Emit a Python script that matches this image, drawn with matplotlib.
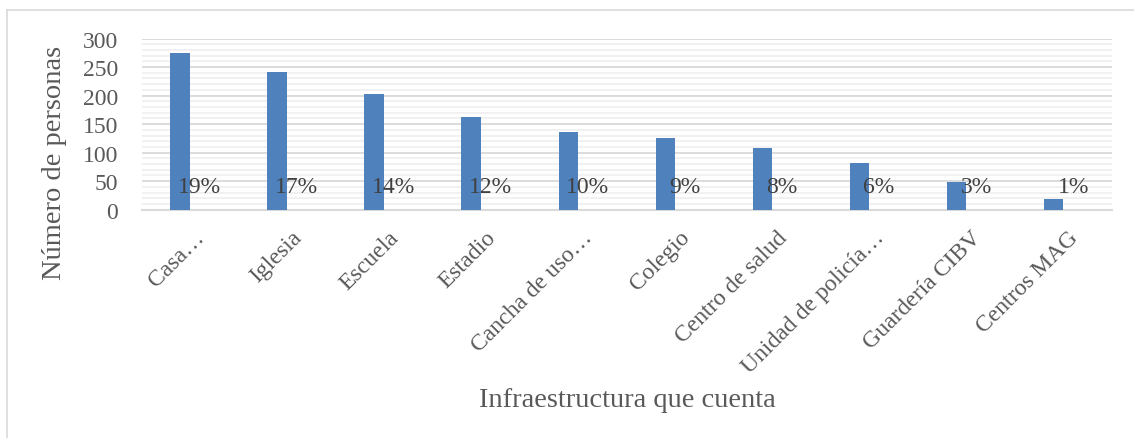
import matplotlib.pyplot as plt
from matplotlib.lines import Line2D
from matplotlib.ticker import MultipleLocator
from matplotlib.transforms import ScaledTranslation

categories = ['Casa…', 'Iglesia', 'Escuela', 'Estadio', 'Cancha de uso…',
              'Colegio', 'Centro de salud', 'Unidad de policía…',
              'Guardería CIBV', 'Centros MAG']
personas = [274, 242, 203, 162, 137, 126, 109, 81, 48, 19]
porcentajes = ['19%', '17%', '14%', '12%', '10%', '9%', '8%', '6%', '3%', '1%']

plt.rcParams['font.family'] = ['Liberation Serif', 'DejaVu Serif']
txt = '#595959'

fig = plt.figure(figsize=(11.34, 4.39), dpi=100)
ax = fig.add_axes([0.1252, 0.520, 0.8554, 0.390])

x = range(len(categories))
ax.bar(x, personas, width=0.2, color='#4F81BD', zorder=3)

for i, p in enumerate(porcentajes):
    ax.text(i + 0.2, 40, p, ha='center', va='center', fontsize=17,
            color='#404040', zorder=4)

ax.set_xlim(-0.39, 9.6)
ax.set_ylim(0, 300)
ax.yaxis.set_major_locator(MultipleLocator(50))
ax.yaxis.set_minor_locator(MultipleLocator(10))
ax.grid(axis='y', which='major', color='#D9D9D9', linewidth=1.3, zorder=0)
ax.grid(axis='y', which='minor', color='#F0F0F0', linewidth=1.3, zorder=0)

for s in ['top', 'right', 'left']:
    ax.spines[s].set_visible(False)
ax.spines['bottom'].set_color('#D9D9D9')
ax.spines['bottom'].set_linewidth(1.5)

ax.tick_params(axis='y', which='both', length=0, pad=17, labelsize=17,
               labelcolor=txt)
ax.tick_params(axis='x', length=0, pad=12, labelsize=17, labelcolor=txt)
ax.set_xticks(list(x))
ax.set_xticklabels(categories, rotation=45, ha='right',
                   rotation_mode='anchor')
# nudge category labels a bit to the right, like the original
shift = ScaledTranslation(10 / 72, 0, fig.dpi_scale_trans)
for lbl in ax.get_xticklabels():
    lbl.set_transform(lbl.get_transform() + shift)

ax.set_ylabel('Número de personas', fontsize=20.5, color=txt)
ax.yaxis.set_label_coords(-0.077, 0.279)
ax.set_xlabel('Infraestructura que cuenta', fontsize=20.5, color=txt)
ax.xaxis.set_label_coords(0.5, -1.035)

# chart border (only top and left are visible in the crop)
fig.add_artist(Line2D([7 / 1134, 7 / 1134], [0, 1 - 10.5 / 439],
                      color='#D9D9D9', linewidth=1.2))
fig.add_artist(Line2D([7 / 1134, 1], [1 - 10.5 / 439, 1 - 10.5 / 439],
                      color='#D9D9D9', linewidth=1.2))

fig.savefig('out.png', dpi=100)
